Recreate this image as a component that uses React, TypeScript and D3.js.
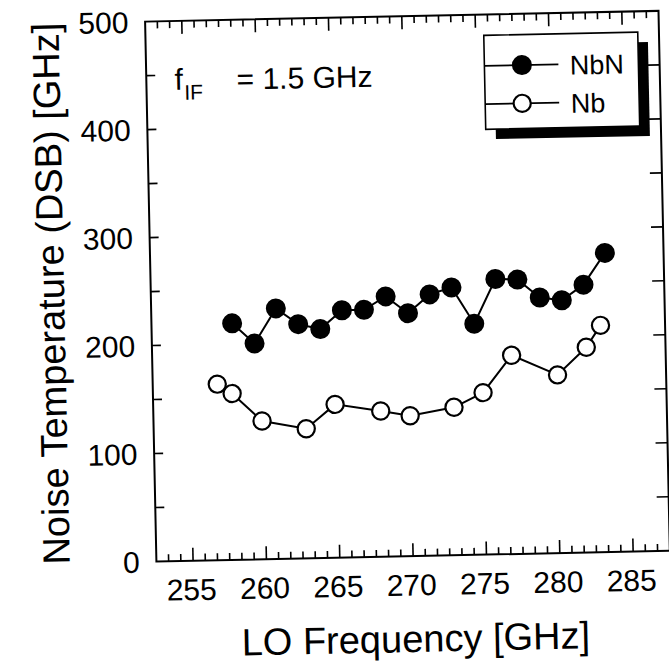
import React from 'react';
import * as d3 from 'd3';

// LO frequency [GHz] and noise temperature [K]
const nbnFreq = [258, 259.5, 261, 262.5, 264, 265.5, 267, 268.5, 270, 271.5, 273, 274.5, 276, 277.5, 279, 280.5, 282, 283.5];
const nbnTemp = [219, 200, 232, 217, 212, 229, 229, 241, 225, 242, 248, 214, 255, 254, 237, 234, 248, 277];
const nbFreq = [256.9, 257.9, 259.9, 262.9, 264.9, 268, 270, 273, 275, 277, 280.1, 282.1, 283.1];
const nbTemp = [163, 154, 128, 120, 142, 135, 130, 137, 150, 184, 165, 190, 210];

const xTickLabels = [255, 260, 265, 270, 275, 280, 285];
const yTickLabels = [0, 100, 200, 300, 400, 500];
const legendLabels = ['NbN', 'Nb'];

const W = 669;
const H = 670;
const L = 150.7;
const R = 664.2;
const T = 16.2;
const B = 556.2;
const FONT = "'Liberation Sans', Arial, Helvetica, sans-serif";

export default function App() {
  const x = d3.scaleLinear().domain([252.5, 287.5]).range([L, R]);
  const y = d3.scaleLinear().domain([0, 500]).range([B, T]);
  const line = d3
    .line<[number, number]>()
    .x((d) => x(d[0]))
    .y((d) => y(d[1]));

  const nbn: [number, number][] = nbnFreq.map((f, i) => [f, nbnTemp[i]]);
  const nb: [number, number][] = nbFreq.map((f, i) => [f, nbTemp[i]]);

  const xMinor = d3.range(1, 42).map((k) => 252.5 + (k * 5) / 6);
  const yMinor = d3.range(50, 500, 50);

  const cx = (L + R) / 2;
  const cy = (T + B) / 2;

  const legX0 = 489;
  const legX1 = 643;
  const legY0 = 37;
  const legY1 = 131;
  const rowY = [67.5, 105.8];

  return (
    <svg
      width={W}
      height={H}
      style={{ position: 'absolute', left: 0, top: 0, background: '#fff' }}
      fontFamily={FONT}
    >
      <rect x={0} y={0} width={W} height={H} fill="#fff" />
      <g transform={`rotate(-1.2, ${cx}, ${cy})`}>
        {/* x ticks (bottom & top, inward) */}
        {xMinor.map((v, i) => {
          const major = xTickLabels.some((t) => Math.abs(t - v) < 1e-6);
          const len = major ? 13 : 7;
          return (
            <g key={'xt' + i} stroke="#000" strokeWidth={1.6}>
              <line x1={x(v)} x2={x(v)} y1={B} y2={B - len} />
              <line x1={x(v)} x2={x(v)} y1={T} y2={T + len} />
            </g>
          );
        })}
        {/* y ticks (left & right, inward) */}
        {yMinor.map((v, i) => (
          <g key={'yt' + i} stroke="#000" strokeWidth={1.6}>
            <line x1={L} x2={L + 9} y1={y(v)} y2={y(v)} />
            <line x1={R} x2={R - 12} y1={y(v)} y2={y(v)} />
          </g>
        ))}
        {/* frame */}
        <rect x={L} y={T} width={R - L} height={B - T} fill="none" stroke="#000" strokeWidth={2} />

        {/* x tick labels */}
        {xTickLabels.map((v) => (
          <text key={'xl' + v} x={x(v) - 2} y={595.5} fontSize={30} textAnchor="middle" fill="#000">
            {v}
          </text>
        ))}
        {/* y tick labels */}
        {yTickLabels.map((v) => (
          <text
            key={'yl' + v}
            x={134}
            y={y(v)}
            dy="0.36em"
            fontSize={30}
            textAnchor="end"
            fill="#000"
          >
            {v}
          </text>
        ))}

        {/* axis titles */}
        <text x={cx + 1} y={652} fontSize={38} textAnchor="middle" fill="#000">
          LO Frequency [GHz]
        </text>
        <text
          transform={`translate(64, ${cy}) rotate(-90)`}
          fontSize={38}
          textAnchor="middle"
          fill="#000"
        >
          Noise Temperature (DSB) [GHz]
        </text>

        {/* annotation */}
        <text x={179} y={85} fontSize={30} fill="#000">
          f
          <tspan fontSize={21} dy={10} dx={1}>
            IF
          </tspan>
        </text>
        <text x={241} y={86} fontSize={30} fill="#000">
          = 1.5 GHz
        </text>

        {/* Nb series (open circles) */}
        <path d={line(nb) || ''} fill="none" stroke="#000" strokeWidth={2} />
        {nb.map((d, i) => (
          <circle key={'nb' + i} cx={x(d[0])} cy={y(d[1])} r={8.6} fill="#fff" stroke="#000" strokeWidth={2.2} />
        ))}

        {/* NbN series (filled circles) */}
        <path d={line(nbn) || ''} fill="none" stroke="#000" strokeWidth={2} />
        {nbn.map((d, i) => (
          <circle key={'nbn' + i} cx={x(d[0])} cy={y(d[1])} r={10} fill="#000" />
        ))}

        {/* legend */}
        <rect x={legX0 + 10} y={legY0 + 10} width={legX1 - legX0} height={legY1 - legY0} fill="#000" />
        <rect
          x={legX0}
          y={legY0}
          width={legX1 - legX0}
          height={legY1 - legY0}
          fill="#fff"
          stroke="#000"
          strokeWidth={1.6}
        />
        {legendLabels.map((lab, i) => (
          <g key={'lg' + i}>
            <line x1={legX0} x2={563} y1={rowY[i]} y2={rowY[i]} stroke="#000" strokeWidth={1.8} />
            {i === 0 ? (
              <circle cx={526.5} cy={rowY[i]} r={10} fill="#000" />
            ) : (
              <circle cx={526} cy={rowY[i]} r={8.6} fill="#fff" stroke="#000" strokeWidth={2.2} />
            )}
            <text x={574.5} y={rowY[i] + 10.5} fontSize={27} fill="#000">
              {lab}
            </text>
          </g>
        ))}
      </g>
    </svg>
  );
}
